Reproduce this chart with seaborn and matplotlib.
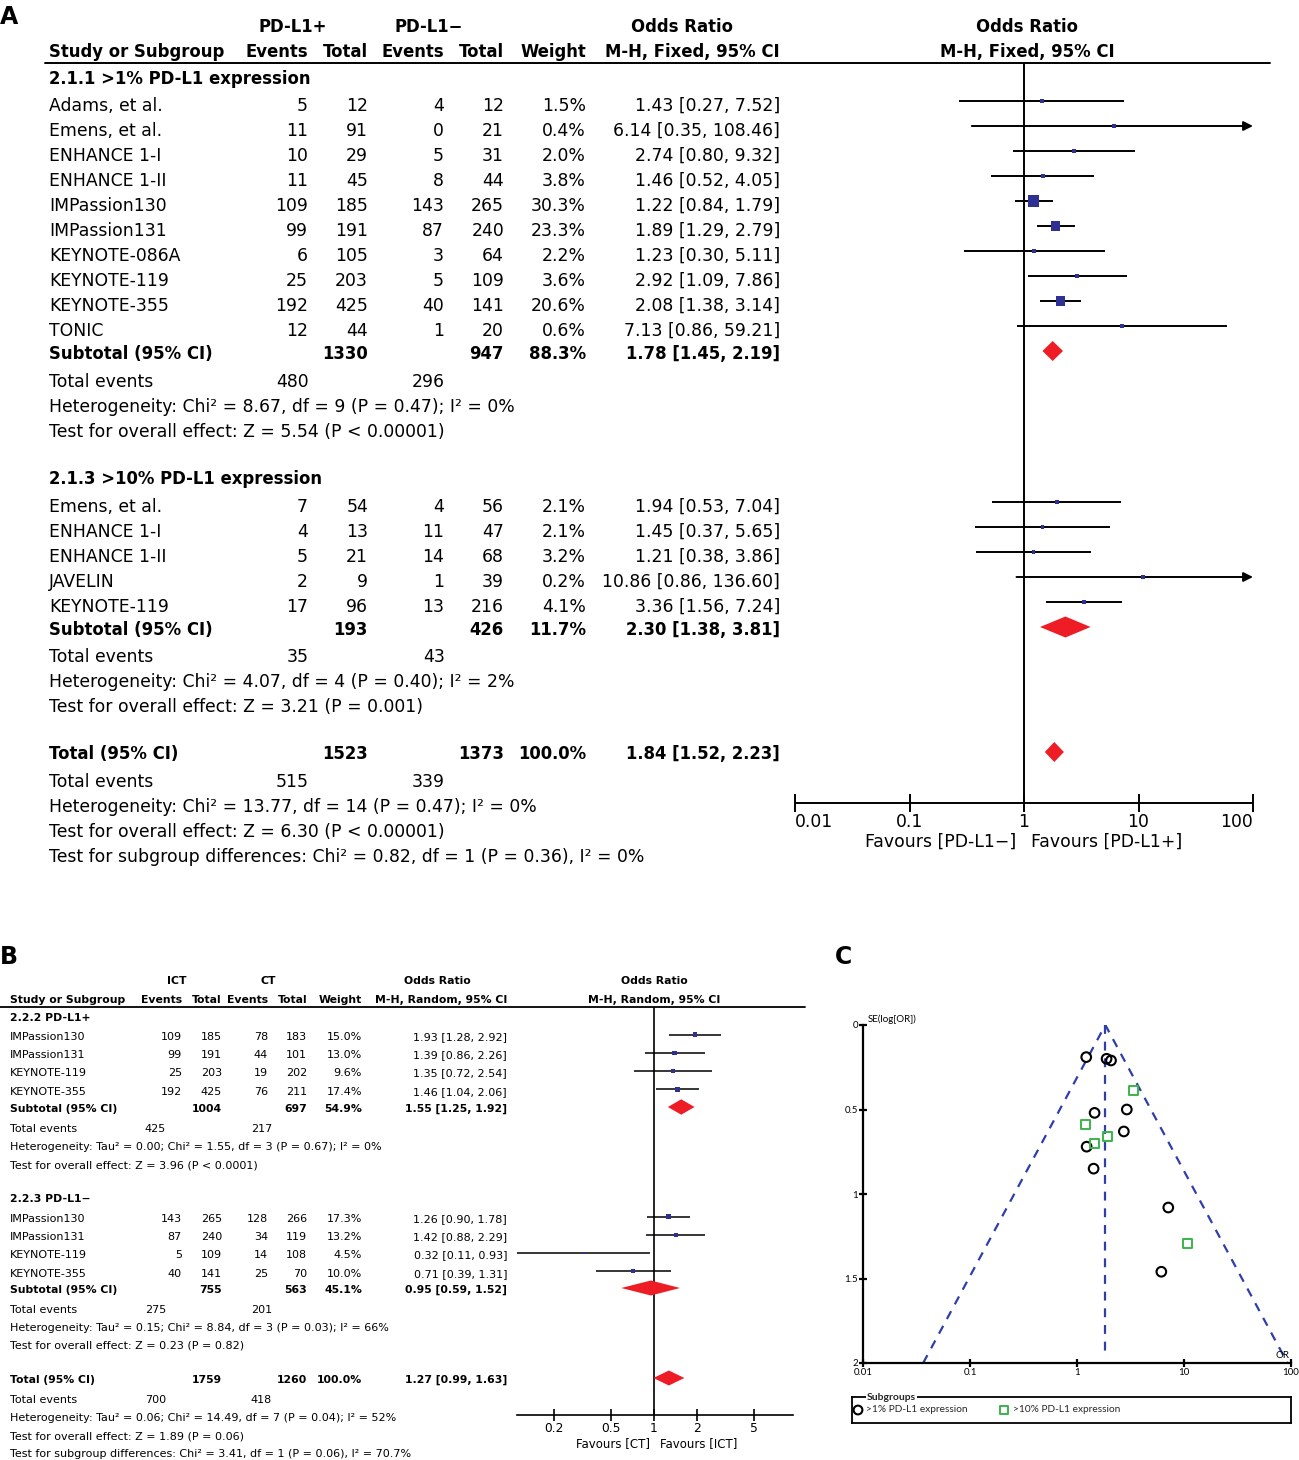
import numpy as np
import pandas as pd
import matplotlib
matplotlib.use("Agg")
import matplotlib.pyplot as plt
import seaborn as sns
from matplotlib.patches import Polygon

sns.set_theme(style="white")
plt.rcParams['font.family'] = ['DejaVu Sans']

# ---------------- data: panel A (PD-L1+ vs PD-L1-) ----------------
a1_study = ["Adams, et al.", "Emens, et al.", "ENHANCE 1-I", "ENHANCE 1-II", "IMPassion130",
            "IMPassion131", "KEYNOTE-086A", "KEYNOTE-119", "KEYNOTE-355", "TONIC"]
a1_ev_pos = [5, 11, 10, 11, 109, 99, 6, 25, 192, 12]
a1_tot_pos = [12, 91, 29, 45, 185, 191, 105, 203, 425, 44]
a1_ev_neg = [4, 0, 5, 8, 143, 87, 3, 5, 40, 1]
a1_tot_neg = [12, 21, 31, 44, 265, 240, 64, 109, 141, 20]
a1_weight = [1.5, 0.4, 2.0, 3.8, 30.3, 23.3, 2.2, 3.6, 20.6, 0.6]
a1_or = [1.43, 6.14, 2.74, 1.46, 1.22, 1.89, 1.23, 2.92, 2.08, 7.13]
a1_lo = [0.27, 0.35, 0.80, 0.52, 0.84, 1.29, 0.30, 1.09, 1.38, 0.86]
a1_hi = [7.52, 108.46, 9.32, 4.05, 1.79, 2.79, 5.11, 7.86, 3.14, 59.21]
a1_sub = [1330, 947, 88.3, 1.78, 1.45, 2.19]
a1_events = [480, 296]
a1_stats = ["Heterogeneity: Chi² = 8.67, df = 9 (P = 0.47); I² = 0%",
            "Test for overall effect: Z = 5.54 (P < 0.00001)"]

a2_study = ["Emens, et al.", "ENHANCE 1-I", "ENHANCE 1-II", "JAVELIN", "KEYNOTE-119"]
a2_ev_pos = [7, 4, 5, 2, 17]
a2_tot_pos = [54, 13, 21, 9, 96]
a2_ev_neg = [4, 11, 14, 1, 13]
a2_tot_neg = [56, 47, 68, 39, 216]
a2_weight = [2.1, 2.1, 3.2, 0.2, 4.1]
a2_or = [1.94, 1.45, 1.21, 10.86, 3.36]
a2_lo = [0.53, 0.37, 0.38, 0.86, 1.56]
a2_hi = [7.04, 5.65, 3.86, 136.60, 7.24]
a2_sub = [193, 426, 11.7, 2.30, 1.38, 3.81]
a2_events = [35, 43]
a2_stats = ["Heterogeneity: Chi² = 4.07, df = 4 (P = 0.40); I² = 2%",
            "Test for overall effect: Z = 3.21 (P = 0.001)"]

a_total = [1523, 1373, 100.0, 1.84, 1.52, 2.23]
a_total_events = [515, 339]
a_total_stats = ["Heterogeneity: Chi² = 13.77, df = 14 (P = 0.47); I² = 0%",
                 "Test for overall effect: Z = 6.30 (P < 0.00001)",
                 "Test for subgroup differences: Chi² = 0.82, df = 1 (P = 0.36), I² = 0%"]

# ---------------- data: panel B (ICT vs CT) ----------------
b_study = ["IMPassion130", "IMPassion131", "KEYNOTE-119", "KEYNOTE-355"]
b1_ev_ict = [109, 99, 25, 192]
b1_tot_ict = [185, 191, 203, 425]
b1_ev_ct = [78, 44, 19, 76]
b1_tot_ct = [183, 101, 202, 211]
b1_weight = [15.0, 13.0, 9.6, 17.4]
b1_or = [1.93, 1.39, 1.35, 1.46]
b1_lo = [1.28, 0.86, 0.72, 1.04]
b1_hi = [2.92, 2.26, 2.54, 2.06]
b1_sub = [1004, 697, 54.9, 1.55, 1.25, 1.92]
b1_events = [425, 217]
b1_stats = ["Heterogeneity: Tau² = 0.00; Chi² = 1.55, df = 3 (P = 0.67); I² = 0%",
            "Test for overall effect: Z = 3.96 (P < 0.0001)"]

b2_ev_ict = [143, 87, 5, 40]
b2_tot_ict = [265, 240, 109, 141]
b2_ev_ct = [128, 34, 14, 25]
b2_tot_ct = [266, 119, 108, 70]
b2_weight = [17.3, 13.2, 4.5, 10.0]
b2_or = [1.26, 1.42, 0.32, 0.71]
b2_lo = [0.90, 0.88, 0.11, 0.39]
b2_hi = [1.78, 2.29, 0.93, 1.31]
b2_sub = [755, 563, 45.1, 0.95, 0.59, 1.52]
b2_events = [275, 201]
b2_stats = ["Heterogeneity: Tau² = 0.15; Chi² = 8.84, df = 3 (P = 0.03); I² = 66%",
            "Test for overall effect: Z = 0.23 (P = 0.82)"]

b_total = [1759, 1260, 100.0, 1.27, 0.99, 1.63]
b_total_events = [700, 418]
b_total_stats = ["Heterogeneity: Tau² = 0.06; Chi² = 14.49, df = 7 (P = 0.04); I² = 52%",
                 "Test for overall effect: Z = 1.89 (P = 0.06)",
                 "Test for subgroup differences: Chi² = 3.41, df = 1 (P = 0.06), I² = 70.7%"]

# ---------------- data: panel C (funnel) ----------------
c1_or = [1.43, 6.14, 2.74, 1.46, 1.22, 1.89, 1.23, 2.92, 2.08, 7.13]
c1_se = [0.85, 1.46, 0.63, 0.52, 0.19, 0.20, 0.72, 0.50, 0.21, 1.08]
c2_or = [1.94, 1.45, 1.21, 10.86, 3.36]
c2_se = [0.66, 0.70, 0.59, 1.29, 0.39]
c_pooled = 1.84

BLUE = "#2e3192"
RED = "#ee1c25"
GREEN = "#39b54a"
REG = ["DejaVu Sans"]
BOLD = ["DejaVu Sans"]
SMALL = ["Lato", "DejaVu Sans"]

W, H = 1299, 1460
fig = plt.figure(figsize=(W / 100, H / 100), dpi=100)


def txt(x, y, s, ha="left", size=12.5, bold=False, family=None, **kw):
    if family is None:
        family = BOLD if bold else REG
    fig.text(x / W, 1 - y / H, s, ha=ha, va="center_baseline", fontsize=size,
             fontweight="bold" if bold else "normal", color="black", family=family, **kw)


def add_ax(x0, y0, x1, y1):
    return fig.add_axes([x0 / W, 1 - y1 / H, (x1 - x0) / W, (y1 - y0) / H])


def fmt_or(o, l, h):
    return f"{o:.2f} [{l:.2f}, {h:.2f}]"


def forest(ax, ys, ors, los, his, weights, k, minside, lw, xmax):
    for y, l, h in zip(ys, los, his):
        if h > xmax:
            ax.annotate("", xy=(xmax, y), xytext=(l, y),
                        arrowprops=dict(arrowstyle="-|>", color="black", lw=lw,
                                        mutation_scale=14, shrinkA=0, shrinkB=0))
        else:
            ax.hlines(y, l, h, color="black", lw=lw, zorder=2)
    side = np.maximum(k * np.sqrt(np.array(weights)), minside) * 0.72
    df = pd.DataFrame({"or": ors, "y": ys})
    sns.scatterplot(data=df, x="or", y="y", marker="s", s=side ** 2, color=BLUE,
                    linewidth=0, ax=ax, zorder=3, legend=False)


def diamond(ax, y, o, l, h, half):
    ax.add_patch(Polygon([(l, y), (o, y - half), (h, y), (o, y + half)],
                         closed=True, color=RED, lw=0, zorder=3))


def table_rows(col, ys, names, e1, t1, e2, t2, w, o, l, h, size):
    for i, y in enumerate(ys):
        txt(col["name"], y, names[i], size=size)
        txt(col["ev1"], y, str(e1[i]), ha="right", size=size)
        txt(col["tot1"], y, str(t1[i]), ha="right", size=size)
        txt(col["ev2"], y, str(e2[i]), ha="right", size=size)
        txt(col["tot2"], y, str(t2[i]), ha="right", size=size)
        txt(col["w"], y, f"{w[i]:.1f}%", ha="right", size=size)
        txt(col["orr"], y, fmt_or(o[i], l[i], h[i]), ha="right", size=size)


def subtotal_row(col, y, label, sub, size):
    txt(col["name"], y, label, size=size, bold=True)
    txt(col["tot1"], y, str(sub[0]), ha="right", size=size, bold=True)
    txt(col["tot2"], y, str(sub[1]), ha="right", size=size, bold=True)
    txt(col["w"], y, f"{sub[2]:.1f}%", ha="right", size=size, bold=True)
    txt(col["orr"], y, fmt_or(*sub[3:]), ha="right", size=size, bold=True)


# =================== PANEL A ===================
FA = 12.4
FAB = 11.9
colA = dict(name=49, ev1=308, tot1=368, ev2=444, tot2=504, w=586, orr=780)
txt(0, 15, "A", size=17, bold=True, family=REG)
txt(293, 25, "PD-L1+", ha="center", size=FAB, bold=True)
txt(429, 25, "PD-L1−", ha="center", size=FAB, bold=True)
txt(682, 25, "Odds Ratio", ha="center", size=FAB, bold=True)
txt(1027, 25, "Odds Ratio", ha="center", size=FAB, bold=True)
txt(colA["name"], 50, "Study or Subgroup", size=FAB, bold=True)
for key, lab in [("ev1", "Events"), ("tot1", "Total"), ("ev2", "Events"),
                 ("tot2", "Total"), ("w", "Weight"), ("orr", "M-H, Fixed, 95% CI")]:
    txt(colA[key], 50, lab, ha="right", size=FAB, bold=True)
txt(1027, 50, "M-H, Fixed, 95% CI", ha="center", size=FAB, bold=True)
fig.add_artist(plt.Line2D([45 / W, 1270 / W], [1 - 63 / H] * 2, color="black", lw=1.4))

stepA = 25
a1_y = [104 + stepA * i for i in range(len(a1_study))]
a2_y = [505 + stepA * i for i in range(len(a2_study))]

txt(colA["name"], 77, "2.1.1 >1% PD-L1 expression", size=FAB, bold=True)
table_rows(colA, a1_y, a1_study, a1_ev_pos, a1_tot_pos, a1_ev_neg, a1_tot_neg,
           a1_weight, a1_or, a1_lo, a1_hi, FA)
subtotal_row(colA, 352, "Subtotal (95% CI)", a1_sub, FAB)
txt(colA["name"], 380, "Total events", size=FA)
txt(309, 380, str(a1_events[0]), ha="right", size=FA)
txt(445, 380, str(a1_events[1]), ha="right", size=FA)
txt(colA["name"], 405, a1_stats[0], size=FA)
txt(colA["name"], 430, a1_stats[1], size=FA)

txt(colA["name"], 477, "2.1.3 >10% PD-L1 expression", size=FAB, bold=True)
table_rows(colA, a2_y, a2_study, a2_ev_pos, a2_tot_pos, a2_ev_neg, a2_tot_neg,
           a2_weight, a2_or, a2_lo, a2_hi, FA)
subtotal_row(colA, 628, "Subtotal (95% CI)", a2_sub, FAB)
txt(colA["name"], 655, "Total events", size=FA)
txt(309, 655, str(a2_events[0]), ha="right", size=FA)
txt(445, 655, str(a2_events[1]), ha="right", size=FA)
txt(colA["name"], 680, a2_stats[0], size=FA)
txt(colA["name"], 705, a2_stats[1], size=FA)

subtotal_row(colA, 752, "Total (95% CI)", a_total, FAB)
txt(colA["name"], 780, "Total events", size=FA)
txt(309, 780, str(a_total_events[0]), ha="right", size=FA)
txt(445, 780, str(a_total_events[1]), ha="right", size=FA)
for i, s in enumerate(a_total_stats):
    txt(colA["name"], 805 + 25 * i, s, size=FA)

axA = add_ax(795, 63, 1253, 803)
axA.set_xscale("log")
axA.set_xlim(0.01, 100)
axA.set_ylim(803, 63)
axA.axvline(1, color="black", lw=1.4, zorder=1)
forest(axA, [y - 3 for y in a1_y], a1_or, a1_lo, a1_hi, a1_weight, 2.0, 3.8, 1.4, 100)
forest(axA, [y - 3 for y in a2_y], a2_or, a2_lo, a2_hi, a2_weight, 2.0, 3.8, 1.4, 100)
diamond(axA, 351, *a1_sub[3:], 10)
diamond(axA, 627, *a2_sub[3:], 10.5)
diamond(axA, 752, *a_total[3:], 10)
for sp in ["left", "right", "top"]:
    axA.spines[sp].set_visible(False)
axA.spines["bottom"].set_color("black")
axA.spines["bottom"].set_linewidth(1.4)
axA.set_xticks([0.01, 0.1, 1, 10, 100])
axA.set_xticklabels(["0.01", "0.1", "1", "10", "100"])
axA.minorticks_off()
axA.tick_params(axis="x", direction="inout", length=13, width=1.4, labelsize=FA, pad=1,
                bottom=True, colors="black")
axA.get_xticklabels()[0].set_ha("left")
axA.get_xticklabels()[-1].set_ha("right")
axA.set_yticks([])
axA.set_xlabel("")
axA.set_ylabel("")
txt(1016, 840, "Favours [PD-L1−]", ha="right", size=FA)
txt(1031, 840, "Favours [PD-L1+]", ha="left", size=FA)

# =================== PANEL B ===================
FB = 8.0
FBB = 7.8
colB = dict(name=10, ev1=182, tot1=222, ev2=268, tot2=307, w=362, orr=507)
txt(0, 955, "B", size=17, bold=True, family=REG)
txt(177, 980, "ICT", ha="center", size=FBB, bold=True)
txt(268, 980, "CT", ha="center", size=FBB, bold=True)
txt(437, 980, "Odds Ratio", ha="center", size=FBB, bold=True)
txt(654, 980, "Odds Ratio", ha="center", size=FBB, bold=True)
txt(colB["name"], 999, "Study or Subgroup", size=FBB, bold=True)
for key, lab in [("ev1", "Events"), ("tot1", "Total"), ("ev2", "Events"),
                 ("tot2", "Total"), ("w", "Weight"), ("orr", "M-H, Random, 95% CI")]:
    txt(colB[key], 999, lab, ha="right", size=FBB, bold=True)
txt(654, 999, "M-H, Random, 95% CI", ha="center", size=FBB, bold=True)
fig.add_artist(plt.Line2D([0, 805 / W], [1 - 1007 / H] * 2, color="black", lw=1.3))

stepB = 18.2
b1_y = [1036 + stepB * i for i in range(4)]
b2_y = [1218 + stepB * i for i in range(4)]

txt(colB["name"], 1017, "2.2.2 PD-L1+", size=FBB, bold=True)
table_rows(colB, b1_y, b_study, b1_ev_ict, b1_tot_ict, b1_ev_ct, b1_tot_ct,
           b1_weight, b1_or, b1_lo, b1_hi, FB)
subtotal_row(colB, 1108, "Subtotal (95% CI)", b1_sub, FBB)
txt(colB["name"], 1128, "Total events", size=FB)
txt(166, 1128, str(b1_events[0]), ha="right", size=FB)
txt(272, 1128, str(b1_events[1]), ha="right", size=FB)
txt(colB["name"], 1146, b1_stats[0], size=FB)
txt(colB["name"], 1165, b1_stats[1], size=FB)

txt(colB["name"], 1198, "2.2.3 PD-L1−", size=FBB, bold=True)
table_rows(colB, b2_y, b_study, b2_ev_ict, b2_tot_ict, b2_ev_ct, b2_tot_ct,
           b2_weight, b2_or, b2_lo, b2_hi, FB)
subtotal_row(colB, 1289, "Subtotal (95% CI)", b2_sub, FBB)
txt(colB["name"], 1309, "Total events", size=FB)
txt(166, 1309, str(b2_events[0]), ha="right", size=FB)
txt(272, 1309, str(b2_events[1]), ha="right", size=FB)
txt(colB["name"], 1327, b2_stats[0], size=FB)
txt(colB["name"], 1345, b2_stats[1], size=FB)

subtotal_row(colB, 1379, "Total (95% CI)", b_total, FBB)
txt(colB["name"], 1399, "Total events", size=FB)
txt(166, 1399, str(b_total_events[0]), ha="right", size=FB)
txt(272, 1399, str(b_total_events[1]), ha="right", size=FB)
for i, s in enumerate(b_total_stats):
    txt(colB["name"], 1417 + 18.2 * i, s, size=FB)

axB = add_ax(517, 1007, 793, 1415)
axB.set_xscale("log")
axB.set_xlim(0.110, 9.38)
axB.set_ylim(1415, 1007)
axB.axvline(1, color="black", lw=1.2, zorder=1)
forest(axB, [y - 1.5 for y in b1_y], b1_or, b1_lo, b1_hi, b1_weight, 1.2, 2.6, 1.1, 100)
forest(axB, [y - 1.5 for y in b2_y], b2_or, b2_lo, b2_hi, b2_weight, 1.2, 2.6, 1.1, 100)
diamond(axB, 1107, *b1_sub[3:], 7.7)
diamond(axB, 1288, *b2_sub[3:], 7.5)
diamond(axB, 1378, *b_total[3:], 7.5)
for sp in ["left", "right", "top"]:
    axB.spines[sp].set_visible(False)
axB.spines["bottom"].set_color("black")
axB.spines["bottom"].set_linewidth(1.2)
axB.set_xticks([0.2, 0.5, 1, 2, 5])
axB.set_xticklabels(["0.2", "0.5", "1", "2", "5"])
axB.minorticks_off()
axB.tick_params(axis="x", direction="inout", length=9, width=1.2, labelsize=FB + 0.8,
                pad=0.5, bottom=True, colors="black")
axB.set_yticks([])
axB.set_xlabel("")
axB.set_ylabel("")
txt(650, 1442, "Favours [CT]", ha="right", size=FB + 0.5)
txt(660, 1442, "Favours [ICT]", ha="left", size=FB + 0.5)

# =================== PANEL C ===================
FC = 7
txt(835, 955, "C", size=17, bold=True, family=REG)
axC = add_ax(863, 1025, 1291, 1363)
axC.set_xscale("log")
axC.set_xlim(0.01, 100)
axC.set_ylim(2, 0)
lo_end = c_pooled * np.exp(-1.96 * 2)
hi_end = c_pooled * np.exp(1.96 * 2)
dash = dict(color="#2f3ea8", lw=1.6, ls=(0, (4, 3.5)), zorder=1)
axC.plot([lo_end, c_pooled, hi_end], [2, 0, 2], **dash)
axC.plot([c_pooled, c_pooled], [0, 1.97], **dash)
d1 = pd.DataFrame({"or": c1_or, "se": c1_se})
d2 = pd.DataFrame({"or": c2_or, "se": c2_se})
sns.scatterplot(data=d1, x="or", y="se", marker="o", s=48, facecolor="none",
                edgecolor="black", linewidth=1.5, ax=axC, zorder=3, legend=False)
sns.scatterplot(data=d2, x="or", y="se", marker="s", s=42, facecolor="none",
                edgecolor=GREEN, linewidth=1.4, ax=axC, zorder=3, legend=False)
for sp in ["right", "top"]:
    axC.spines[sp].set_visible(False)
for sp in ["left", "bottom"]:
    axC.spines[sp].set_color("black")
    axC.spines[sp].set_linewidth(1.6)
axC.set_xticks([0.01, 0.1, 1, 10, 100])
axC.set_xticklabels(["0.01", "0.1", "1", "10", "100"])
axC.set_yticks([0, 0.5, 1, 1.5, 2])
axC.set_yticklabels(["0", "0.5", "1", "1.5", "2"])
axC.minorticks_off()
axC.tick_params(axis="both", direction="inout", length=6, width=1.6, labelsize=FC,
                colors="black", pad=0.5, left=True, bottom=True)
for lab in axC.get_xticklabels() + axC.get_yticklabels():
    lab.set_family(SMALL)
axC.set_xlabel("")
axC.set_ylabel("")
txt(868, 1018, "SE(log[OR])", size=FC, family=SMALL)
txt(1283, 1354, "OR", ha="center", size=FC, family=SMALL)

axL = add_ax(852, 1397, 1291, 1423)
axL.set_xlim(852, 1291)
axL.set_ylim(1423, 1397)
axL.set_xticks([])
axL.set_yticks([])
for sp in axL.spines.values():
    sp.set_visible(True)
    sp.set_color("black")
    sp.set_linewidth(1.3)
axL.scatter([858], [1410], marker="o", s=40, facecolor="none", edgecolor="black", lw=1.5)
axL.scatter([1004], [1410], marker="s", s=36, facecolor="none", edgecolor=GREEN, lw=1.4)
axL.text(866, 1410, ">1% PD-L1 expression", fontsize=FC + 0.3, va="center", family=SMALL)
axL.text(1013, 1410, ">10% PD-L1 expression", fontsize=FC + 0.3, va="center", family=SMALL)
axL.text(867, 1397, "Subgroups", fontsize=FC + 0.5, fontweight="bold", va="center",
         family=SMALL, bbox=dict(fc="white", ec="none", pad=0.8), clip_on=False, zorder=5)

fig.savefig("out.png", dpi=100)
